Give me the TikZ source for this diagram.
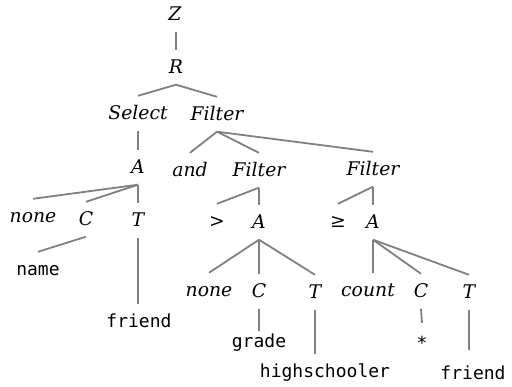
\documentclass[tikz,border=0pt]{standalone}
\usepackage{fontspec}
\setmainfont{DejaVu Serif}
\setmonofont{DejaVu Sans Mono}
\begin{document}
\begin{tikzpicture}[x=1pt,y=-1pt,
  lab/.style={anchor=base,inner sep=0pt,text height=24pt,text depth=10.5pt,
    font=\fontsize{18.8}{20}\selectfont\itshape},
  code/.style={lab,font=\fontsize{18}{20}\selectfont\ttfamily},
  sym/.style={lab,font=\fontsize{18.8}{20}\selectfont},
  edge/.style={draw=black!50,line width=1.8pt}]
\useasboundingbox (0,0) rectangle (512,387);
% nodes
\node[lab] (Z) at (175,21) {Z};
\node[lab] (R) at (176,74) {R};
\node[lab] (Sel) at (138,120) {Select};
\node[lab] (F1) at (217,121) {Filter};
\node[lab] (A1) at (138,174) {A};
\node[lab] (and) at (190,177) {and};
\node[lab] (F2) at (259,177) {Filter};
\node[lab] (F3) at (373,176) {Filter};
\node[lab] (none1) at (33,223) {none};
\node[lab] (C1) at (86,226) {C};
\node[lab] (T1) at (138,227) {T};
\node[sym] (gt) at (217,228) {>};
\node[lab] (A2) at (259,229) {A};
\node[sym] (geq) at (338,228) {≥};
\node[lab] (A3) at (373,229) {A};
\node[code] (name) at (38,276) {name};
\node[code] (fr1) at (139,328) {friend};
\node[lab] (none2) at (209,297) {none};
\node[lab] (C2) at (259,298) {C};
\node[lab] (T2) at (315,299) {T};
\node[lab] (count) at (368,297) {count};
\node[lab] (C3) at (421,298) {C};
\node[lab] (T3) at (469,299) {T};
\node[code] (grade) at (259,348) {grade};
\node[code] (hs) at (325,378) {highschooler};
\node[code] (star) at (422,350) {*};
\node[code] (fr3) at (473,380) {friend};
% connectors
\draw[edge] (R.north |- Z.south) -- (R.north);
\draw[edge] (R.south) -- (Sel.north);
\draw[edge] (R.south) -- (F1.north);
\draw[edge] (A1.north |- Sel.south) -- (A1.north);
\draw[edge] (F1.south) -- (and.north);
\draw[edge] (F1.south) -- (F2.north);
\draw[edge] (F1.south) -- (F3.north);
\draw[edge] (A1.south) -- (none1.north);
\draw[edge] (A1.south) -- (C1.north);
\draw[edge] (A1.south) -- (T1.north);
\draw[edge] (C1.south) -- (name.north);
\draw[edge] (T1.south) -- (T1.south |- fr1.north);
\draw[edge] (F2.south) -- (gt.north);
\draw[edge] (F2.south) -- (A2.north);
\draw[edge] (F3.south) -- (geq.north);
\draw[edge] (F3.south) -- (A3.north);
\draw[edge] (A2.south) -- (none2.north);
\draw[edge] (A2.south) -- (C2.north);
\draw[edge] (A2.south) -- (T2.north);
\draw[edge] (A3.south) -- (A3.south |- count.north);
\draw[edge] (A3.south) -- (C3.north);
\draw[edge] (A3.south) -- (T3.north);
\draw[edge] (C2.south) -- ([yshift=-7pt]grade.north);
\draw[edge] (T2.south) -- (T2.south |- hs.north);
\draw[edge] (C3.south) -- ([yshift=3pt]star.north);
\draw[edge] (T3.south) -- ([yshift=6pt]T3.south |- fr3.north);
\end{tikzpicture}
\end{document}
